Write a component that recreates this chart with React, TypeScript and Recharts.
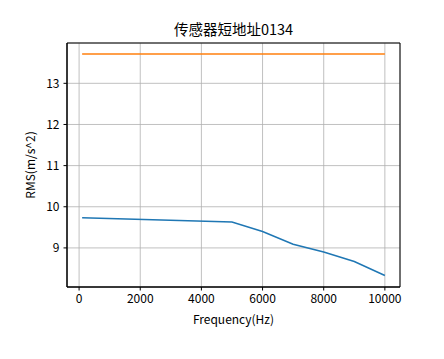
import {
  LineChart,
  Line,
  XAxis,
  YAxis,
  CartesianGrid,
  ReferenceArea,
} from "recharts";

const frequencies = [100, 5000, 6000, 7000, 8000, 9000, 10000];
const rmsValues = [9.73, 9.63, 9.4, 9.09, 8.9, 8.67, 8.33];
const thresholdValues = [13.71, 13.71, 13.71, 13.71, 13.71, 13.71, 13.71];
const xTicks = [0, 2000, 4000, 6000, 8000, 10000];
const yTicks = [9, 10, 11, 12, 13];

const chartData = frequencies.map((f, i) => ({
  freq: f,
  rms: rmsValues[i],
  limit: thresholdValues[i],
}));

const xDomain = [-395, 10495];
const yDomain = [8.05, 13.98];
const font = "'Noto Sans CJK SC', sans-serif";

const App: React.FC = () => {
  return (
    <div
      style={{
        position: "absolute",
        left: 0,
        top: 0,
        width: 444,
        height: 359,
        background: "#fff",
        fontFamily: font,
      }}
    >
      <div
        style={{
          position: "absolute",
          top: 18,
          left: 0,
          width: 467,
          textAlign: "center",
          fontSize: 14.5,
          color: "#000",
        }}
      >
        传感器短地址0134
      </div>
      <LineChart
        width={444}
        height={359}
        data={chartData}
        margin={{ top: 43, right: 44, left: 0, bottom: 0 }}
      >
        <CartesianGrid stroke="#b0b0b0" strokeWidth={0.8} />
        <XAxis
          dataKey="freq"
          type="number"
          domain={xDomain}
          ticks={xTicks}
          allowDataOverflow
          height={72}
          tickSize={3.5}
          tickMargin={4}
          stroke="#000"
          tick={{ fill: "#000", fontSize: 12, fontFamily: font }}
          label={{
            value: "Frequency(Hz)",
            position: "insideTop",
            offset: 28,
            fill: "#000",
            fontSize: 12,
            fontFamily: font,
          }}
        />
        <YAxis
          type="number"
          domain={yDomain}
          ticks={yTicks}
          allowDataOverflow
          width={67}
          tickSize={3.5}
          tickMargin={4}
          stroke="#000"
          tick={{ fill: "#000", fontSize: 12, fontFamily: font }}
          label={{
            value: "RMS(m/s^2)",
            angle: -90,
            position: "center",
            dx: -3,
            fill: "#000",
            fontSize: 12,
            fontFamily: font,
          }}
        />
        <Line
          dataKey="rms"
          stroke="#1f77b4"
          strokeWidth={1.5}
          dot={false}
          isAnimationActive={false}
        />
        <Line
          dataKey="limit"
          stroke="#ff7f0e"
          strokeWidth={1.5}
          dot={false}
          isAnimationActive={false}
        />
        <ReferenceArea
          x1={xDomain[0]}
          x2={xDomain[1]}
          y1={yDomain[0]}
          y2={yDomain[1]}
          fill="none"
          fillOpacity={0}
          stroke="#000"
          strokeWidth={1}
        />
      </LineChart>
    </div>
  );
};

export default App;
